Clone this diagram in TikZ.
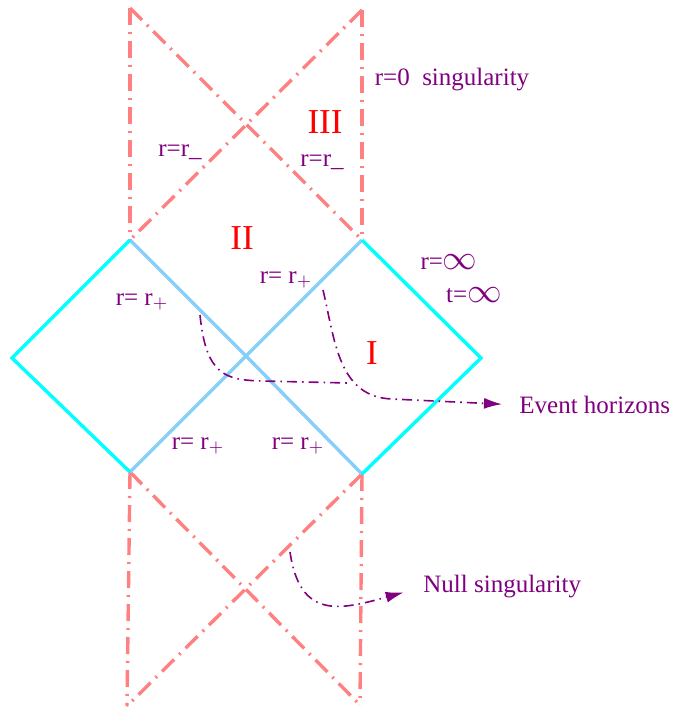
\documentclass[tikz,border=0pt]{standalone}
\usepackage{fontspec}
\setmainfont{Liberation Serif}
\usetikzlibrary{arrows.meta}
\definecolor{salmon}{RGB}{255,128,128}
\definecolor{horblue}{RGB}{135,206,250}
\definecolor{scricyan}{RGB}{0,255,255}
\definecolor{labpurple}{RGB}{128,0,128}
\newcommand{\bigInf}{{\fontsize{17}{18}\selectfont$\infty$}}

\begin{document}
\begin{tikzpicture}[x=0.5pt, y=-0.5pt, font=\fontsize{12.5}{15}\selectfont,
  sing/.style={draw=salmon, line width=1.7pt, dash pattern=on 8.5pt off 3.5pt on 1pt off 3.5pt},
  scri/.style={draw=scricyan, line width=1.7pt, line join=miter},
  hor/.style={draw=horblue, line width=1.7pt},
  lab/.style={text=labpurple, inner sep=1pt},
  reg/.style={text=red, font=\fontsize{17.5}{20}\selectfont, inner sep=0pt},
  a/.style={draw=labpurple, line width=0.8pt, dash pattern=on 5pt off 2.5pt on 0.8pt off 2.5pt,
    -{Latex[length=9pt, width=5.5pt]}}]
 \useasboundingbox (0,0) rectangle (674,707);
 % corners
 \coordinate (W) at (12,358);
 \coordinate (E) at (481,358);
 \coordinate (C) at (246,356);
 \coordinate (Lt) at (130,240);
 \coordinate (Lb) at (130,472);
 \coordinate (Rt) at (362,240);
 \coordinate (Rb) at (362,474);
 \coordinate (UL) at (130,8);
 \coordinate (UR) at (362,10);
 \coordinate (DL) at (127,706);
 \coordinate (DR) at (360,705);
 % singularities (top and bottom)
 \draw[sing] (UL) -- (Lt);
 \draw[sing] (UR) -- (Rt);
 \draw[sing] (UL) -- (Rt);
 \draw[sing] (UR) -- (Lt);
 \draw[sing] (Lb) -- (DL);
 \draw[sing] (Rb) -- (DR);
 \draw[sing] (Lb) -- (DR);
 \draw[sing] (Rb) -- (DL);
 % diamonds
 \draw[hor] (Lt) -- (C) -- (Rb);
 \draw[hor] (Lb) -- (C) -- (Rt);
 \draw[scri] (Lt) -- (W) -- (Lb);
 \draw[scri] (Rt) -- (E) -- (Rb);
 % labels
 \node[lab] (sg) at (452,80) {r=0\ \ singularity};
 \node[reg] (r3) at (325,122) {III};
 \node[lab] (m1) at (180,152) {r=r\_};
 \node[lab] (m2) at (322,162) {r=r\_};
 \node[reg] (r2) at (242,238) {II};
 \node[lab] (p1) at (142,302) {r= r$_+$};
 \node[lab] (p2) at (286,280) {r= r$_+$};
 \node[lab] (p3) at (198,446) {r= r$_+$};
 \node[lab] (p4) at (298,446) {r= r$_+$};
 \node[lab] (ri) at (449,262) {r=\bigInf};
 \node[lab] (ti) at (474,295) {t=\bigInf};
 \node[reg] (r1) at (372,353) {I};
 \node[lab, anchor=west, inner sep=0pt] (evh) at (519,405) {Event horizons};
 \node[lab, anchor=west, inner sep=0pt] (nul) at (423,587) {Null singularity};
 % pointers
 \draw[a, -] (200,315) .. controls (206,375) and (225,380) .. (262,381) -- (348,383);
 \draw[a, shorten >=8.5pt] (323,290) .. controls (335,340) and (338,397) .. (392,399) -- (evh.west);
 \draw[a, shorten >=10pt] (290,552) .. controls (300,620) and (340,610) .. (nul.west);
\end{tikzpicture}
\end{document}
